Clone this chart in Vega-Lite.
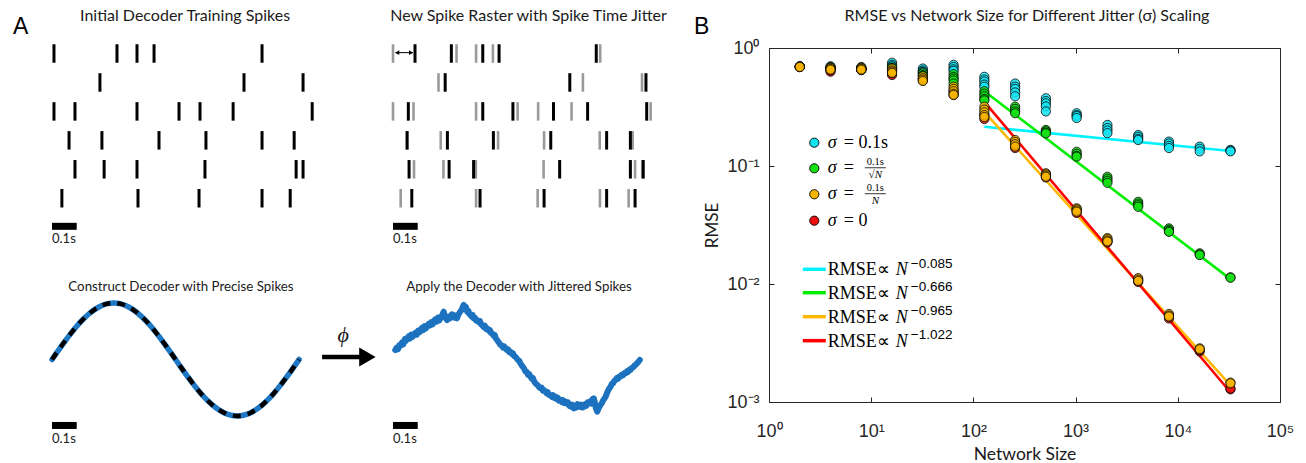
{
  "$schema": "https://vega.github.io/schema/vega-lite/v6.json",
  "autosize": {"type": "pad"},
  "padding": {"left": 12, "top": 8, "right": 0, "bottom": 0},
  "background": "white",
  "config": {
    "view": {"stroke": null},
    "axis": {"grid": false}
  },
  "datasets": {
    "raster1": [
      {"row": 1, "t": 0.008}, {"row": 1, "t": 0.263}, {"row": 1, "t": 0.344}, {"row": 1, "t": 0.413}, {"row": 1, "t": 0.85},
      {"row": 2, "t": 0.194}, {"row": 2, "t": 0.777}, {"row": 2, "t": 1.016},
      {"row": 3, "t": 0.008}, {"row": 3, "t": 0.093}, {"row": 3, "t": 0.344}, {"row": 3, "t": 0.514}, {"row": 3, "t": 0.599}, {"row": 3, "t": 0.733}, {"row": 3, "t": 1.053},
      {"row": 4, "t": 0.069}, {"row": 4, "t": 0.202}, {"row": 4, "t": 0.433}, {"row": 4, "t": 0.623}, {"row": 4, "t": 0.85}, {"row": 4, "t": 0.98},
      {"row": 5, "t": 0.093}, {"row": 5, "t": 0.211}, {"row": 5, "t": 0.344}, {"row": 5, "t": 0.619}, {"row": 5, "t": 0.988}, {"row": 5, "t": 1.016},
      {"row": 6, "t": 0.04}, {"row": 6, "t": 0.348}, {"row": 6, "t": 0.595}, {"row": 6, "t": 0.85}, {"row": 6, "t": 0.964}
    ],
    "raster2o": [
      {"row": 1, "t": 0.0}, {"row": 1, "t": 0.257}, {"row": 1, "t": 0.336}, {"row": 1, "t": 0.404}, {"row": 1, "t": 0.838},
      {"row": 2, "t": 0.184}, {"row": 2, "t": 0.768}, {"row": 2, "t": 1.007},
      {"row": 3, "t": 0.0}, {"row": 3, "t": 0.083}, {"row": 3, "t": 0.336}, {"row": 3, "t": 0.504}, {"row": 3, "t": 0.587}, {"row": 3, "t": 0.722}, {"row": 3, "t": 1.042},
      {"row": 4, "t": 0.057}, {"row": 4, "t": 0.193}, {"row": 4, "t": 0.425}, {"row": 4, "t": 0.611}, {"row": 4, "t": 0.836}, {"row": 4, "t": 0.969},
      {"row": 5, "t": 0.085}, {"row": 5, "t": 0.204}, {"row": 5, "t": 0.335}, {"row": 5, "t": 0.609}, {"row": 5, "t": 0.979}, {"row": 5, "t": 1.008},
      {"row": 6, "t": 0.031}, {"row": 6, "t": 0.336}, {"row": 6, "t": 0.585}, {"row": 6, "t": 0.837}, {"row": 6, "t": 0.953}
    ],
    "raster2j": [
      {"row": 1, "t": 0.089}, {"row": 1, "t": 0.236}, {"row": 1, "t": 0.363}, {"row": 1, "t": 0.429}, {"row": 1, "t": 0.822},
      {"row": 2, "t": 0.211}, {"row": 2, "t": 0.715}, {"row": 2, "t": 1.023},
      {"row": 3, "t": 0.062}, {"row": 3, "t": 0.363}, {"row": 3, "t": 0.485}, {"row": 3, "t": 0.649}, {"row": 3, "t": 0.787}, {"row": 3, "t": 1.026},
      {"row": 4, "t": 0.057}, {"row": 4, "t": 0.22}, {"row": 4, "t": 0.406}, {"row": 4, "t": 0.638}, {"row": 4, "t": 0.864}, {"row": 4, "t": 0.96},
      {"row": 5, "t": 0.065}, {"row": 5, "t": 0.227}, {"row": 5, "t": 0.326}, {"row": 5, "t": 0.674}, {"row": 5, "t": 0.96}, {"row": 5, "t": 1.012},
      {"row": 6, "t": 0.076}, {"row": 6, "t": 0.352}, {"row": 6, "t": 0.611}, {"row": 6, "t": 0.864}, {"row": 6, "t": 0.979}
    ],
    "sine": [
      {"t": 0.0, "u": 0.0}, {"t": 0.025, "u": 0.1564}, {"t": 0.05, "u": 0.309}, {"t": 0.075, "u": 0.454}, {"t": 0.1, "u": 0.5878},
      {"t": 0.125, "u": 0.7071}, {"t": 0.15, "u": 0.809}, {"t": 0.175, "u": 0.891}, {"t": 0.2, "u": 0.9511}, {"t": 0.225, "u": 0.9877},
      {"t": 0.25, "u": 1.0}, {"t": 0.275, "u": 0.9877}, {"t": 0.3, "u": 0.9511}, {"t": 0.325, "u": 0.891}, {"t": 0.35, "u": 0.809},
      {"t": 0.375, "u": 0.7071}, {"t": 0.4, "u": 0.5878}, {"t": 0.425, "u": 0.454}, {"t": 0.45, "u": 0.309}, {"t": 0.475, "u": 0.1564},
      {"t": 0.5, "u": 0.0}, {"t": 0.525, "u": -0.1564}, {"t": 0.55, "u": -0.309}, {"t": 0.575, "u": -0.454}, {"t": 0.6, "u": -0.5878},
      {"t": 0.625, "u": -0.7071}, {"t": 0.65, "u": -0.809}, {"t": 0.675, "u": -0.891}, {"t": 0.7, "u": -0.9511}, {"t": 0.725, "u": -0.9877},
      {"t": 0.75, "u": -1.0}, {"t": 0.775, "u": -0.9877}, {"t": 0.8, "u": -0.9511}, {"t": 0.825, "u": -0.891}, {"t": 0.85, "u": -0.809},
      {"t": 0.875, "u": -0.7071}, {"t": 0.9, "u": -0.5878}, {"t": 0.925, "u": -0.454}, {"t": 0.95, "u": -0.309}, {"t": 0.975, "u": -0.1564},
      {"t": 1.0, "u": 0.0}
    ],
    "noisy": [
      {"t": 0.009, "u": 0.168}, {"t": 0.015, "u": 0.21}, {"t": 0.02, "u": 0.18}, {"t": 0.025, "u": 0.25}, {"t": 0.03, "u": 0.239},
      {"t": 0.036, "u": 0.3}, {"t": 0.042, "u": 0.27}, {"t": 0.048, "u": 0.36}, {"t": 0.052, "u": 0.33}, {"t": 0.057, "u": 0.375},
      {"t": 0.063, "u": 0.41}, {"t": 0.068, "u": 0.37}, {"t": 0.074, "u": 0.44}, {"t": 0.079, "u": 0.4}, {"t": 0.083, "u": 0.434},
      {"t": 0.09, "u": 0.47}, {"t": 0.096, "u": 0.44}, {"t": 0.102, "u": 0.51}, {"t": 0.107, "u": 0.48}, {"t": 0.111, "u": 0.522},
      {"t": 0.117, "u": 0.56}, {"t": 0.122, "u": 0.52}, {"t": 0.128, "u": 0.59}, {"t": 0.133, "u": 0.55}, {"t": 0.138, "u": 0.593},
      {"t": 0.144, "u": 0.63}, {"t": 0.149, "u": 0.6}, {"t": 0.155, "u": 0.66}, {"t": 0.16, "u": 0.62}, {"t": 0.164, "u": 0.67},
      {"t": 0.17, "u": 0.71}, {"t": 0.176, "u": 0.67}, {"t": 0.182, "u": 0.74}, {"t": 0.187, "u": 0.69}, {"t": 0.192, "u": 0.729},
      {"t": 0.198, "u": 0.78}, {"t": 0.205, "u": 0.847}, {"t": 0.21, "u": 0.76}, {"t": 0.215, "u": 0.72}, {"t": 0.219, "u": 0.699},
      {"t": 0.225, "u": 0.76}, {"t": 0.231, "u": 0.73}, {"t": 0.238, "u": 0.8}, {"t": 0.245, "u": 0.788}, {"t": 0.25, "u": 0.74},
      {"t": 0.255, "u": 0.77}, {"t": 0.259, "u": 0.729}, {"t": 0.265, "u": 0.8}, {"t": 0.272, "u": 0.847}, {"t": 0.278, "u": 0.88},
      {"t": 0.283, "u": 0.94}, {"t": 0.286, "u": 0.965}, {"t": 0.29, "u": 0.9}, {"t": 0.295, "u": 0.93}, {"t": 0.3, "u": 0.847},
      {"t": 0.305, "u": 0.86}, {"t": 0.309, "u": 0.8}, {"t": 0.313, "u": 0.788}, {"t": 0.318, "u": 0.76}, {"t": 0.322, "u": 0.79},
      {"t": 0.326, "u": 0.729}, {"t": 0.331, "u": 0.74}, {"t": 0.336, "u": 0.69}, {"t": 0.34, "u": 0.699}, {"t": 0.346, "u": 0.66},
      {"t": 0.352, "u": 0.68}, {"t": 0.356, "u": 0.62}, {"t": 0.36, "u": 0.611}, {"t": 0.366, "u": 0.58}, {"t": 0.371, "u": 0.6},
      {"t": 0.376, "u": 0.54}, {"t": 0.381, "u": 0.552}, {"t": 0.387, "u": 0.51}, {"t": 0.392, "u": 0.52}, {"t": 0.396, "u": 0.47},
      {"t": 0.401, "u": 0.463}, {"t": 0.407, "u": 0.42}, {"t": 0.412, "u": 0.43}, {"t": 0.416, "u": 0.37}, {"t": 0.421, "u": 0.345},
      {"t": 0.426, "u": 0.31}, {"t": 0.43, "u": 0.29}, {"t": 0.434, "u": 0.257}, {"t": 0.44, "u": 0.25}, {"t": 0.445, "u": 0.21},
      {"t": 0.45, "u": 0.23}, {"t": 0.455, "u": 0.198}, {"t": 0.46, "u": 0.17}, {"t": 0.465, "u": 0.18}, {"t": 0.47, "u": 0.13},
      {"t": 0.475, "u": 0.138}, {"t": 0.48, "u": 0.1}, {"t": 0.485, "u": 0.11}, {"t": 0.49, "u": 0.06}, {"t": 0.495, "u": 0.05},
      {"t": 0.5, "u": 0.02}, {"t": 0.505, "u": -0.01}, {"t": 0.51, "u": -0.02}, {"t": 0.515, "u": -0.068}, {"t": 0.52, "u": -0.1},
      {"t": 0.525, "u": -0.13}, {"t": 0.53, "u": -0.16}, {"t": 0.536, "u": -0.215}, {"t": 0.541, "u": -0.22}, {"t": 0.546, "u": -0.27},
      {"t": 0.551, "u": -0.26}, {"t": 0.556, "u": -0.304}, {"t": 0.561, "u": -0.34}, {"t": 0.566, "u": -0.33}, {"t": 0.571, "u": -0.39},
      {"t": 0.576, "u": -0.422}, {"t": 0.581, "u": -0.44}, {"t": 0.586, "u": -0.46}, {"t": 0.591, "u": -0.49}, {"t": 0.596, "u": -0.51},
      {"t": 0.601, "u": -0.5}, {"t": 0.606, "u": -0.55}, {"t": 0.611, "u": -0.54}, {"t": 0.616, "u": -0.569}, {"t": 0.621, "u": -0.6},
      {"t": 0.626, "u": -0.58}, {"t": 0.631, "u": -0.63}, {"t": 0.637, "u": -0.628}, {"t": 0.642, "u": -0.66}, {"t": 0.647, "u": -0.63},
      {"t": 0.652, "u": -0.68}, {"t": 0.657, "u": -0.658}, {"t": 0.662, "u": -0.7}, {"t": 0.667, "u": -0.68}, {"t": 0.672, "u": -0.73},
      {"t": 0.677, "u": -0.717}, {"t": 0.682, "u": -0.75}, {"t": 0.687, "u": -0.72}, {"t": 0.692, "u": -0.77}, {"t": 0.698, "u": -0.746},
      {"t": 0.703, "u": -0.78}, {"t": 0.708, "u": -0.76}, {"t": 0.713, "u": -0.82}, {"t": 0.718, "u": -0.805}, {"t": 0.722, "u": -0.84},
      {"t": 0.726, "u": -0.8}, {"t": 0.731, "u": -0.864}, {"t": 0.736, "u": -0.82}, {"t": 0.741, "u": -0.85}, {"t": 0.746, "u": -0.79},
      {"t": 0.752, "u": -0.805}, {"t": 0.757, "u": -0.84}, {"t": 0.762, "u": -0.8}, {"t": 0.767, "u": -0.85}, {"t": 0.772, "u": -0.835},
      {"t": 0.777, "u": -0.79}, {"t": 0.782, "u": -0.82}, {"t": 0.787, "u": -0.76}, {"t": 0.792, "u": -0.776}, {"t": 0.797, "u": -0.74},
      {"t": 0.802, "u": -0.78}, {"t": 0.807, "u": -0.7}, {"t": 0.812, "u": -0.687}, {"t": 0.816, "u": -0.75}, {"t": 0.82, "u": -0.86},
      {"t": 0.826, "u": -0.923}, {"t": 0.832, "u": -0.86}, {"t": 0.839, "u": -0.805}, {"t": 0.845, "u": -0.77}, {"t": 0.85, "u": -0.72},
      {"t": 0.855, "u": -0.69}, {"t": 0.86, "u": -0.658}, {"t": 0.865, "u": -0.6}, {"t": 0.87, "u": -0.55}, {"t": 0.875, "u": -0.51},
      {"t": 0.88, "u": -0.481}, {"t": 0.885, "u": -0.43}, {"t": 0.89, "u": -0.42}, {"t": 0.895, "u": -0.38}, {"t": 0.9, "u": -0.363},
      {"t": 0.905, "u": -0.33}, {"t": 0.91, "u": -0.34}, {"t": 0.915, "u": -0.3}, {"t": 0.92, "u": -0.304}, {"t": 0.925, "u": -0.27},
      {"t": 0.93, "u": -0.28}, {"t": 0.936, "u": -0.24}, {"t": 0.941, "u": -0.245}, {"t": 0.946, "u": -0.21}, {"t": 0.951, "u": -0.22},
      {"t": 0.956, "u": -0.18}, {"t": 0.961, "u": -0.186}, {"t": 0.966, "u": -0.15}, {"t": 0.971, "u": -0.14}, {"t": 0.976, "u": -0.11},
      {"t": 0.981, "u": -0.097}, {"t": 0.986, "u": -0.07}, {"t": 0.991, "u": -0.05}, {"t": 0.998, "u": -0.009}
    ],
    "fits": [
      {"N": 128, "rmse": 0.215, "series": "s01"}, {"N": 32768, "rmse": 0.134, "series": "s01"},
      {"N": 128, "rmse": 0.43, "series": "sqrt"}, {"N": 32768, "rmse": 0.011, "series": "sqrt"},
      {"N": 128, "rmse": 0.287, "series": "inv"}, {"N": 32768, "rmse": 0.00138, "series": "inv"},
      {"N": 128, "rmse": 0.35, "series": "zero"}, {"N": 32768, "rmse": 0.00121, "series": "zero"}
    ],
    "points": [
      {"N": 2, "rmse": 0.7, "series": "s01"}, {"N": 2, "rmse": 0.69, "series": "s01"}, {"N": 2, "rmse": 0.695, "series": "s01"},
      {"N": 4, "rmse": 0.7, "series": "s01"}, {"N": 4, "rmse": 0.68, "series": "s01"}, {"N": 4, "rmse": 0.67, "series": "s01"}, {"N": 4, "rmse": 0.69, "series": "s01"},
      {"N": 8, "rmse": 0.69, "series": "s01"}, {"N": 8, "rmse": 0.67, "series": "s01"}, {"N": 8, "rmse": 0.66, "series": "s01"}, {"N": 8, "rmse": 0.68, "series": "s01"},
      {"N": 16, "rmse": 0.75, "series": "s01"}, {"N": 16, "rmse": 0.72, "series": "s01"}, {"N": 16, "rmse": 0.7, "series": "s01"}, {"N": 16, "rmse": 0.68, "series": "s01"},
      {"N": 32, "rmse": 0.67, "series": "s01"}, {"N": 32, "rmse": 0.645, "series": "s01"}, {"N": 32, "rmse": 0.63, "series": "s01"}, {"N": 32, "rmse": 0.62, "series": "s01"},
      {"N": 64, "rmse": 0.72, "series": "s01"}, {"N": 64, "rmse": 0.69, "series": "s01"}, {"N": 64, "rmse": 0.66, "series": "s01"}, {"N": 64, "rmse": 0.64, "series": "s01"},
      {"N": 128, "rmse": 0.57, "series": "s01"}, {"N": 128, "rmse": 0.54, "series": "s01"}, {"N": 128, "rmse": 0.52, "series": "s01"}, {"N": 128, "rmse": 0.49, "series": "s01"}, {"N": 128, "rmse": 0.47, "series": "s01"},
      {"N": 256, "rmse": 0.5, "series": "s01"}, {"N": 256, "rmse": 0.47, "series": "s01"}, {"N": 256, "rmse": 0.45, "series": "s01"}, {"N": 256, "rmse": 0.42, "series": "s01"}, {"N": 256, "rmse": 0.39, "series": "s01"},
      {"N": 512, "rmse": 0.375, "series": "s01"}, {"N": 512, "rmse": 0.355, "series": "s01"}, {"N": 512, "rmse": 0.34, "series": "s01"}, {"N": 512, "rmse": 0.32, "series": "s01"}, {"N": 512, "rmse": 0.29, "series": "s01"},
      {"N": 1024, "rmse": 0.28, "series": "s01"}, {"N": 1024, "rmse": 0.27, "series": "s01"}, {"N": 1024, "rmse": 0.265, "series": "s01"}, {"N": 1024, "rmse": 0.255, "series": "s01"},
      {"N": 2048, "rmse": 0.223, "series": "s01"}, {"N": 2048, "rmse": 0.21, "series": "s01"}, {"N": 2048, "rmse": 0.2, "series": "s01"}, {"N": 2048, "rmse": 0.19, "series": "s01"},
      {"N": 4096, "rmse": 0.183, "series": "s01"}, {"N": 4096, "rmse": 0.177, "series": "s01"}, {"N": 4096, "rmse": 0.17, "series": "s01"}, {"N": 4096, "rmse": 0.166, "series": "s01"},
      {"N": 8192, "rmse": 0.161, "series": "s01"}, {"N": 8192, "rmse": 0.155, "series": "s01"}, {"N": 8192, "rmse": 0.148, "series": "s01"}, {"N": 8192, "rmse": 0.142, "series": "s01"},
      {"N": 16384, "rmse": 0.146, "series": "s01"}, {"N": 16384, "rmse": 0.14, "series": "s01"}, {"N": 16384, "rmse": 0.133, "series": "s01"},
      {"N": 32768, "rmse": 0.137, "series": "s01"}, {"N": 32768, "rmse": 0.135, "series": "s01"}, {"N": 32768, "rmse": 0.133, "series": "s01"},
      {"N": 2, "rmse": 0.69, "series": "sqrt"}, {"N": 2, "rmse": 0.7, "series": "sqrt"},
      {"N": 4, "rmse": 0.68, "series": "sqrt"}, {"N": 4, "rmse": 0.66, "series": "sqrt"}, {"N": 4, "rmse": 0.67, "series": "sqrt"},
      {"N": 8, "rmse": 0.67, "series": "sqrt"}, {"N": 8, "rmse": 0.66, "series": "sqrt"}, {"N": 8, "rmse": 0.65, "series": "sqrt"},
      {"N": 16, "rmse": 0.68, "series": "sqrt"}, {"N": 16, "rmse": 0.66, "series": "sqrt"}, {"N": 16, "rmse": 0.64, "series": "sqrt"},
      {"N": 32, "rmse": 0.61, "series": "sqrt"}, {"N": 32, "rmse": 0.59, "series": "sqrt"}, {"N": 32, "rmse": 0.58, "series": "sqrt"},
      {"N": 64, "rmse": 0.6, "series": "sqrt"}, {"N": 64, "rmse": 0.57, "series": "sqrt"}, {"N": 64, "rmse": 0.55, "series": "sqrt"}, {"N": 64, "rmse": 0.53, "series": "sqrt"}, {"N": 64, "rmse": 0.5, "series": "sqrt"},
      {"N": 128, "rmse": 0.43, "series": "sqrt"}, {"N": 128, "rmse": 0.41, "series": "sqrt"}, {"N": 128, "rmse": 0.39, "series": "sqrt"}, {"N": 128, "rmse": 0.37, "series": "sqrt"}, {"N": 128, "rmse": 0.36, "series": "sqrt"},
      {"N": 256, "rmse": 0.318, "series": "sqrt"}, {"N": 256, "rmse": 0.305, "series": "sqrt"}, {"N": 256, "rmse": 0.29, "series": "sqrt"}, {"N": 256, "rmse": 0.28, "series": "sqrt"},
      {"N": 512, "rmse": 0.202, "series": "sqrt"}, {"N": 512, "rmse": 0.197, "series": "sqrt"}, {"N": 512, "rmse": 0.192, "series": "sqrt"}, {"N": 512, "rmse": 0.189, "series": "sqrt"},
      {"N": 1024, "rmse": 0.132, "series": "sqrt"}, {"N": 1024, "rmse": 0.127, "series": "sqrt"}, {"N": 1024, "rmse": 0.122, "series": "sqrt"}, {"N": 1024, "rmse": 0.12, "series": "sqrt"},
      {"N": 2048, "rmse": 0.081, "series": "sqrt"}, {"N": 2048, "rmse": 0.078, "series": "sqrt"}, {"N": 2048, "rmse": 0.075, "series": "sqrt"}, {"N": 2048, "rmse": 0.072, "series": "sqrt"},
      {"N": 4096, "rmse": 0.0497, "series": "sqrt"}, {"N": 4096, "rmse": 0.048, "series": "sqrt"}, {"N": 4096, "rmse": 0.0465, "series": "sqrt"}, {"N": 4096, "rmse": 0.0451, "series": "sqrt"},
      {"N": 8192, "rmse": 0.0296, "series": "sqrt"}, {"N": 8192, "rmse": 0.0288, "series": "sqrt"}, {"N": 8192, "rmse": 0.028, "series": "sqrt"}, {"N": 8192, "rmse": 0.0277, "series": "sqrt"},
      {"N": 16384, "rmse": 0.0182, "series": "sqrt"}, {"N": 16384, "rmse": 0.0178, "series": "sqrt"}, {"N": 16384, "rmse": 0.0176, "series": "sqrt"},
      {"N": 32768, "rmse": 0.0114, "series": "sqrt"}, {"N": 32768, "rmse": 0.0113, "series": "sqrt"},
      {"N": 2, "rmse": 0.69, "series": "zero"}, {"N": 4, "rmse": 0.63, "series": "zero"}, {"N": 4, "rmse": 0.645, "series": "zero"},
      {"N": 8, "rmse": 0.65, "series": "zero"}, {"N": 8, "rmse": 0.66, "series": "zero"}, {"N": 16, "rmse": 0.59, "series": "zero"}, {"N": 16, "rmse": 0.61, "series": "zero"},
      {"N": 32, "rmse": 0.53, "series": "zero"}, {"N": 32, "rmse": 0.55, "series": "zero"}, {"N": 64, "rmse": 0.4, "series": "zero"}, {"N": 64, "rmse": 0.43, "series": "zero"},
      {"N": 128, "rmse": 0.25, "series": "zero"}, {"N": 128, "rmse": 0.27, "series": "zero"}, {"N": 256, "rmse": 0.142, "series": "zero"}, {"N": 256, "rmse": 0.148, "series": "zero"},
      {"N": 512, "rmse": 0.08, "series": "zero"}, {"N": 512, "rmse": 0.083, "series": "zero"}, {"N": 1024, "rmse": 0.04, "series": "zero"}, {"N": 1024, "rmse": 0.042, "series": "zero"},
      {"N": 2048, "rmse": 0.0225, "series": "zero"}, {"N": 2048, "rmse": 0.023, "series": "zero"}, {"N": 4096, "rmse": 0.0104, "series": "zero"}, {"N": 4096, "rmse": 0.0108, "series": "zero"},
      {"N": 8192, "rmse": 0.0051, "series": "zero"}, {"N": 8192, "rmse": 0.0053, "series": "zero"}, {"N": 16384, "rmse": 0.00268, "series": "zero"}, {"N": 16384, "rmse": 0.00275, "series": "zero"},
      {"N": 32768, "rmse": 0.00128, "series": "zero"}, {"N": 32768, "rmse": 0.0013, "series": "zero"},
      {"N": 2, "rmse": 0.695, "series": "inv"}, {"N": 2, "rmse": 0.69, "series": "inv"},
      {"N": 4, "rmse": 0.68, "series": "inv"}, {"N": 4, "rmse": 0.665, "series": "inv"}, {"N": 4, "rmse": 0.655, "series": "inv"},
      {"N": 8, "rmse": 0.68, "series": "inv"}, {"N": 8, "rmse": 0.665, "series": "inv"}, {"N": 8, "rmse": 0.655, "series": "inv"},
      {"N": 16, "rmse": 0.67, "series": "inv"}, {"N": 16, "rmse": 0.645, "series": "inv"}, {"N": 16, "rmse": 0.63, "series": "inv"}, {"N": 16, "rmse": 0.615, "series": "inv"},
      {"N": 32, "rmse": 0.575, "series": "inv"}, {"N": 32, "rmse": 0.555, "series": "inv"}, {"N": 32, "rmse": 0.54, "series": "inv"}, {"N": 32, "rmse": 0.525, "series": "inv"},
      {"N": 64, "rmse": 0.47, "series": "inv"}, {"N": 64, "rmse": 0.45, "series": "inv"}, {"N": 64, "rmse": 0.43, "series": "inv"}, {"N": 64, "rmse": 0.41, "series": "inv"}, {"N": 64, "rmse": 0.4, "series": "inv"},
      {"N": 128, "rmse": 0.318, "series": "inv"}, {"N": 128, "rmse": 0.3, "series": "inv"}, {"N": 128, "rmse": 0.285, "series": "inv"}, {"N": 128, "rmse": 0.27, "series": "inv"}, {"N": 128, "rmse": 0.26, "series": "inv"},
      {"N": 256, "rmse": 0.166, "series": "inv"}, {"N": 256, "rmse": 0.16, "series": "inv"}, {"N": 256, "rmse": 0.153, "series": "inv"}, {"N": 256, "rmse": 0.146, "series": "inv"},
      {"N": 512, "rmse": 0.0868, "series": "inv"}, {"N": 512, "rmse": 0.085, "series": "inv"}, {"N": 512, "rmse": 0.083, "series": "inv"}, {"N": 512, "rmse": 0.081, "series": "inv"},
      {"N": 1024, "rmse": 0.0438, "series": "inv"}, {"N": 1024, "rmse": 0.043, "series": "inv"}, {"N": 1024, "rmse": 0.042, "series": "inv"}, {"N": 1024, "rmse": 0.041, "series": "inv"},
      {"N": 2048, "rmse": 0.0245, "series": "inv"}, {"N": 2048, "rmse": 0.024, "series": "inv"}, {"N": 2048, "rmse": 0.0233, "series": "inv"}, {"N": 2048, "rmse": 0.0229, "series": "inv"},
      {"N": 4096, "rmse": 0.0112, "series": "inv"}, {"N": 4096, "rmse": 0.0109, "series": "inv"}, {"N": 4096, "rmse": 0.0106, "series": "inv"},
      {"N": 8192, "rmse": 0.00557, "series": "inv"}, {"N": 8192, "rmse": 0.0054, "series": "inv"}, {"N": 8192, "rmse": 0.0053, "series": "inv"},
      {"N": 16384, "rmse": 0.00285, "series": "inv"}, {"N": 16384, "rmse": 0.0028, "series": "inv"},
      {"N": 32768, "rmse": 0.00146, "series": "inv"}, {"N": 32768, "rmse": 0.00144, "series": "inv"}
    ],
    "legSig": [
      {"lx": 2.775, "ly": 0.1576, "series": "s01", "rhs": "= 0.1s"},
      {"lx": 2.775, "ly": 0.0956, "series": "sqrt", "rhs": "="},
      {"lx": 2.775, "ly": 0.0576, "series": "inv", "rhs": "="},
      {"lx": 2.775, "ly": 0.0344, "series": "zero", "rhs": "= 0"}
    ],
    "legFrac": [
      {"lx": 2.775, "ly": 0.0956, "num": "0.1s", "den": "√N"},
      {"lx": 2.775, "ly": 0.0576, "num": "0.1s", "den": "N"}
    ],
    "legLine": [
      {"lx": 2.775, "ly": 0.01332, "series": "s01", "expo": "−0.085"},
      {"lx": 2.775, "ly": 0.008438, "series": "sqrt", "expo": "−0.666"},
      {"lx": 2.775, "ly": 0.005283, "series": "inv", "expo": "−0.965"},
      {"lx": 2.775, "ly": 0.003308, "series": "zero", "expo": "−1.022"}
    ]
  },
  "hconcat": [
    {
      "width": 341, "height": 396,
      "resolve": {"scale": {"y": "independent"}},
      "layer": [
        {
          "layer": [
            {
              "data": {"name": "raster1"},
              "mark": {"type": "tick", "orient": "vertical", "size": 18.5, "thickness": 3, "color": "black", "opacity": 1},
              "encoding": {
                "x": {"field": "t", "type": "quantitative", "scale": {"domain": [0, 1.38], "nice": false, "zero": false}, "axis": null},
                "y": {"field": "row", "type": "quantitative", "scale": {"domain": [0.81, 14.49], "reverse": true, "nice": false, "zero": false}, "axis": null}
              }
            },
            {
              "data": {"values": [{"t": 0, "t2": 0.1, "row": 6.97}]},
              "mark": {"type": "rule", "strokeWidth": 7, "strokeCap": "butt", "color": "black"},
              "encoding": {
                "x": {"field": "t", "type": "quantitative", "axis": null},
                "x2": {"field": "t2"},
                "y": {"field": "row", "type": "quantitative", "axis": null}
              }
            },
            {
              "data": {"values": [{"t": 0, "row": 7.54, "label": "0.1s"}]},
              "mark": {"type": "text", "align": "left", "baseline": "alphabetic", "font": "Lato", "fontSize": 13, "color": "#1a1a1a"},
              "encoding": {
                "x": {"field": "t", "type": "quantitative", "axis": null},
                "y": {"field": "row", "type": "quantitative", "axis": null},
                "text": {"field": "label"}
              }
            },
            {
              "data": {"values": [{"t": 0.5385, "row": -0.295, "label": "Initial Decoder Training Spikes"}]},
              "mark": {"type": "text", "align": "center", "baseline": "middle", "font": "Lato", "fontSize": 16, "color": "#1a1a1a"},
              "encoding": {
                "x": {"field": "t", "type": "quantitative", "axis": null},
                "y": {"field": "row", "type": "quantitative", "axis": null},
                "text": {"field": "label"}
              }
            },
            {
              "data": {"values": [{"t": -0.158, "row": -0.295, "label": "A"}]},
              "mark": {"type": "text", "align": "left", "baseline": "top", "font": "Liberation Sans", "fontSize": 23, "color": "black"},
              "encoding": {
                "x": {"field": "t", "type": "quantitative", "axis": null},
                "y": {"field": "row", "type": "quantitative", "axis": null},
                "text": {"field": "label"}
              }
            }
          ]
        },
        {
          "layer": [
            {
              "data": {"name": "sine"},
              "mark": {"type": "line", "strokeWidth": 5.5, "color": "#1f78c4", "strokeCap": "round", "interpolate": "monotone"},
              "encoding": {
                "x": {"field": "t", "type": "quantitative", "axis": null},
                "y": {"field": "u", "type": "quantitative", "scale": {"domain": [-1.496, 5.513], "nice": false, "zero": false}, "axis": null}
              }
            },
            {
              "data": {"name": "sine"},
              "mark": {"type": "line", "strokeWidth": 4.5, "color": "black", "strokeDash": [8, 7], "strokeCap": "butt", "interpolate": "monotone"},
              "encoding": {
                "x": {"field": "t", "type": "quantitative", "axis": null},
                "y": {"field": "u", "type": "quantitative", "axis": null}
              }
            },
            {
              "data": {"values": [{"t": 0, "t2": 0.1, "u": -1.168}]},
              "mark": {"type": "rule", "strokeWidth": 7, "strokeCap": "butt", "color": "black"},
              "encoding": {
                "x": {"field": "t", "type": "quantitative", "axis": null},
                "x2": {"field": "t2"},
                "y": {"field": "u", "type": "quantitative", "axis": null}
              }
            },
            {
              "data": {"values": [{"t": 0, "u": -1.473, "label": "0.1s"}]},
              "mark": {"type": "text", "align": "left", "baseline": "alphabetic", "font": "Lato", "fontSize": 13, "color": "#1a1a1a"},
              "encoding": {
                "x": {"field": "t", "type": "quantitative", "axis": null},
                "y": {"field": "u", "type": "quantitative", "axis": null},
                "text": {"field": "label"}
              }
            },
            {
              "data": {"values": [{"t": 0.522, "u": 1.274, "label": "Construct Decoder with Precise Spikes"}]},
              "mark": {"type": "text", "align": "center", "baseline": "middle", "font": "Lato", "fontSize": 13.3, "color": "#1a1a1a"},
              "encoding": {
                "x": {"field": "t", "type": "quantitative", "axis": null},
                "y": {"field": "u", "type": "quantitative", "axis": null},
                "text": {"field": "label"}
              }
            },
            {
              "data": {"values": [{"t": 1.093, "t2": 1.25, "u": 0.044}]},
              "mark": {"type": "rule", "strokeWidth": 4.5, "strokeCap": "butt", "color": "black"},
              "encoding": {
                "x": {"field": "t", "type": "quantitative", "axis": null},
                "x2": {"field": "t2"},
                "y": {"field": "u", "type": "quantitative", "axis": null}
              }
            },
            {
              "data": {"values": [{"t": 1.2765, "u": 0.044}]},
              "mark": {"type": "point", "shape": "triangle-right", "filled": true, "size": 360, "color": "black", "opacity": 1},
              "encoding": {
                "x": {"field": "t", "type": "quantitative", "axis": null},
                "y": {"field": "u", "type": "quantitative", "axis": null}
              }
            },
            {
              "data": {"values": [{"t": 1.178, "u": 0.43, "label": "ϕ"}]},
              "mark": {"type": "text", "align": "center", "baseline": "middle", "font": "Liberation Serif", "fontStyle": "italic", "fontSize": 22, "color": "#1a1a1a"},
              "encoding": {
                "x": {"field": "t", "type": "quantitative", "axis": null},
                "y": {"field": "u", "type": "quantitative", "axis": null},
                "text": {"field": "label"}
              }
            }
          ]
        }
      ]
    },
    {
      "width": 376, "height": 396,
      "resolve": {"scale": {"y": "independent"}},
      "layer": [
        {
          "layer": [
            {
              "data": {"name": "raster2o"},
              "mark": {"type": "tick", "orient": "vertical", "size": 18.5, "thickness": 2.6, "color": "#9a9a9a", "opacity": 1},
              "encoding": {
                "x": {"field": "t", "type": "quantitative", "scale": {"domain": [0, 1.5206], "nice": false, "zero": false}, "axis": null},
                "y": {"field": "row", "type": "quantitative", "scale": {"domain": [0.81, 14.49], "reverse": true, "nice": false, "zero": false}, "axis": null}
              }
            },
            {
              "data": {"name": "raster2j"},
              "mark": {"type": "tick", "orient": "vertical", "size": 18.5, "thickness": 3, "color": "black", "opacity": 1},
              "encoding": {
                "x": {"field": "t", "type": "quantitative", "axis": null},
                "y": {"field": "row", "type": "quantitative", "axis": null}
              }
            },
            {
              "data": {"values": [{"t": 0.01, "t2": 0.08, "row": 0.97}]},
              "mark": {"type": "rule", "strokeWidth": 1, "color": "black"},
              "encoding": {
                "x": {"field": "t", "type": "quantitative", "axis": null},
                "x2": {"field": "t2"},
                "y": {"field": "row", "type": "quantitative", "axis": null}
              }
            },
            {
              "data": {"values": [{"t": 0.017, "row": 0.97, "dir": "l"}, {"t": 0.073, "row": 0.97, "dir": "r"}]},
              "mark": {"type": "point", "filled": true, "size": 22, "color": "black", "opacity": 1},
              "encoding": {
                "x": {"field": "t", "type": "quantitative", "axis": null},
                "y": {"field": "row", "type": "quantitative", "axis": null},
                "shape": {"field": "dir", "type": "nominal", "scale": {"domain": ["l", "r"], "range": ["triangle-left", "triangle-right"]}, "legend": null}
              }
            },
            {
              "data": {"values": [{"t": 0, "t2": 0.1, "row": 6.97}]},
              "mark": {"type": "rule", "strokeWidth": 7, "strokeCap": "butt", "color": "black"},
              "encoding": {
                "x": {"field": "t", "type": "quantitative", "axis": null},
                "x2": {"field": "t2"},
                "y": {"field": "row", "type": "quantitative", "axis": null}
              }
            },
            {
              "data": {"values": [{"t": 0, "row": 7.54, "label": "0.1s"}]},
              "mark": {"type": "text", "align": "left", "baseline": "alphabetic", "font": "Lato", "fontSize": 13, "color": "#1a1a1a"},
              "encoding": {
                "x": {"field": "t", "type": "quantitative", "axis": null},
                "y": {"field": "row", "type": "quantitative", "axis": null},
                "text": {"field": "label"}
              }
            },
            {
              "data": {"values": [{"t": 0.548, "row": -0.295, "label": "New Spike Raster with Spike Time Jitter"}]},
              "mark": {"type": "text", "align": "center", "baseline": "middle", "font": "Lato", "fontSize": 16, "color": "#1a1a1a"},
              "encoding": {
                "x": {"field": "t", "type": "quantitative", "axis": null},
                "y": {"field": "row", "type": "quantitative", "axis": null},
                "text": {"field": "label"}
              }
            }
          ]
        },
        {
          "layer": [
            {
              "data": {"name": "noisy"},
              "mark": {"type": "line", "strokeWidth": 6, "color": "#1c72be", "strokeCap": "round", "strokeJoin": "round"},
              "encoding": {
                "x": {"field": "t", "type": "quantitative", "axis": null},
                "y": {"field": "u", "type": "quantitative", "scale": {"domain": [-1.496, 5.513], "nice": false, "zero": false}, "axis": null}
              }
            },
            {
              "data": {"values": [{"t": 0, "t2": 0.1, "u": -1.168}]},
              "mark": {"type": "rule", "strokeWidth": 7, "strokeCap": "butt", "color": "black"},
              "encoding": {
                "x": {"field": "t", "type": "quantitative", "axis": null},
                "x2": {"field": "t2"},
                "y": {"field": "u", "type": "quantitative", "axis": null}
              }
            },
            {
              "data": {"values": [{"t": 0, "u": -1.473, "label": "0.1s"}]},
              "mark": {"type": "text", "align": "left", "baseline": "alphabetic", "font": "Lato", "fontSize": 13, "color": "#1a1a1a"},
              "encoding": {
                "x": {"field": "t", "type": "quantitative", "axis": null},
                "y": {"field": "u", "type": "quantitative", "axis": null},
                "text": {"field": "label"}
              }
            },
            {
              "data": {"values": [{"t": 0.5096, "u": 1.274, "label": "Apply the Decoder with Jittered Spikes"}]},
              "mark": {"type": "text", "align": "center", "baseline": "middle", "font": "Lato", "fontSize": 13.3, "color": "#1a1a1a"},
              "encoding": {
                "x": {"field": "t", "type": "quantitative", "axis": null},
                "y": {"field": "u", "type": "quantitative", "axis": null},
                "text": {"field": "label"}
              }
            }
          ]
        }
      ]
    },
    {
      "width": 511, "height": 354,
      "resolve": {"axis": {"x": "independent", "y": "independent"}},
      "layer": [
        {
          "data": {"name": "fits"},
          "mark": {"type": "line", "strokeWidth": 2.6},
          "encoding": {
            "x": {"field": "N", "type": "quantitative", "scale": {"type": "log", "domain": [1, 100000], "nice": false},
              "axis": {"orient": "bottom", "values": [1, 10, 100, 1000, 10000, 100000],
                "labelExpr": "datum.value < 5 ? '10⁰' : datum.value < 50 ? '10¹' : datum.value < 500 ? '10²' : datum.value < 5000 ? '10³' : datum.value < 50000 ? '10⁴' : '10⁵'",
                "tickSize": -5, "labelPadding": 25, "labelFont": "Liberation Sans", "labelFontSize": 18, "labelColor": "#262626",
                "labelFlush": false, "labelOverlap": false, "domainColor": "#262626", "tickColor": "#262626",
                "title": "Network Size", "titleFont": "Lato", "titleFontSize": 17.5, "titleFontWeight": "normal", "titleColor": "#1a1a1a", "titlePadding": 5}},
            "y": {"field": "rmse", "type": "quantitative", "scale": {"type": "log", "domain": [0.001, 1], "nice": false},
              "axis": {"orient": "left", "values": [0.001, 0.01, 0.1, 1],
                "labelExpr": "datum.value > 0.5 ? '10⁰' : datum.value > 0.05 ? '10⁻¹' : datum.value > 0.005 ? '10⁻²' : '10⁻³'",
                "tickSize": -5, "labelPadding": 15, "labelFont": "Liberation Sans", "labelFontSize": 18, "labelColor": "#262626",
                "labelFlush": false, "labelOverlap": false, "domainColor": "#262626", "tickColor": "#262626",
                "title": "RMSE", "titleFont": "Lato", "titleFontSize": 17, "titleFontWeight": "normal", "titleColor": "#1a1a1a", "titlePadding": 5}},
            "color": {"field": "series", "type": "nominal", "scale": {"domain": ["s01", "sqrt", "inv", "zero"], "range": ["#00f2ff", "#00ee00", "#ffb800", "#ff0000"]}, "legend": null}
          }
        },
        {
          "data": {"name": "points"},
          "mark": {"type": "point", "filled": true, "size": 85, "fillOpacity": 0.85, "stroke": "black", "strokeWidth": 0.9, "strokeOpacity": 0.85},
          "encoding": {
            "x": {"field": "N", "type": "quantitative",
              "axis": {"orient": "top", "values": [1, 10, 100, 1000, 10000, 100000], "labels": false, "tickSize": -5, "title": null, "domainColor": "#262626", "tickColor": "#262626"}},
            "y": {"field": "rmse", "type": "quantitative",
              "axis": {"orient": "right", "values": [0.001, 0.01, 0.1, 1], "labels": false, "tickSize": -5, "title": null, "domainColor": "#262626", "tickColor": "#262626"}},
            "fill": {"field": "series", "type": "nominal", "scale": {"domain": ["s01", "sqrt", "inv", "zero"], "range": ["#14e4f2", "#14e014", "#f7b500", "#ee1010"]}, "legend": null}
          }
        },
        {
          "data": {"name": "legSig"},
          "mark": {"type": "point", "filled": true, "size": 85, "stroke": "black", "strokeWidth": 0.9},
          "encoding": {
            "x": {"field": "lx", "type": "quantitative", "axis": null},
            "y": {"field": "ly", "type": "quantitative", "axis": null},
            "fill": {"field": "series", "type": "nominal", "legend": null},
            "opacity": {"field": "series", "type": "nominal", "scale": {"domain": ["s01", "sqrt", "inv", "zero"], "range": [1, 1, 0.3, 1]}, "legend": null}
          }
        },
        {
          "data": {"name": "legSig"},
          "mark": {"type": "text", "align": "left", "baseline": "middle", "dx": 13.5, "font": "Liberation Serif", "fontStyle": "italic", "fontSize": 18, "color": "black"},
          "encoding": {
            "x": {"field": "lx", "type": "quantitative", "axis": null},
            "y": {"field": "ly", "type": "quantitative", "axis": null},
            "text": {"value": "σ"}
          }
        },
        {
          "data": {"name": "legSig"},
          "mark": {"type": "text", "align": "left", "baseline": "middle", "dx": 29.5, "font": "Liberation Serif", "fontSize": 18, "color": "black"},
          "encoding": {
            "x": {"field": "lx", "type": "quantitative", "axis": null},
            "y": {"field": "ly", "type": "quantitative", "axis": null},
            "text": {"field": "rhs"}
          }
        },
        {
          "data": {"name": "legFrac"},
          "mark": {"type": "text", "align": "center", "baseline": "middle", "dx": 61, "dy": -6, "font": "Liberation Serif", "fontSize": 10.5, "color": "black"},
          "encoding": {
            "x": {"field": "lx", "type": "quantitative", "axis": null},
            "y": {"field": "ly", "type": "quantitative", "axis": null},
            "text": {"field": "num"}
          }
        },
        {
          "data": {"name": "legFrac"},
          "mark": {"type": "text", "align": "center", "baseline": "middle", "dx": 61, "dy": 7, "font": "Liberation Serif", "fontStyle": "italic", "fontSize": 11, "color": "black"},
          "encoding": {
            "x": {"field": "lx", "type": "quantitative", "axis": null},
            "y": {"field": "ly", "type": "quantitative", "axis": null},
            "text": {"field": "den"}
          }
        },
        {
          "data": {"name": "legFrac"},
          "mark": {"type": "tick", "orient": "horizontal", "size": 21, "thickness": 0.8, "xOffset": 61, "yOffset": -0.5, "color": "black", "opacity": 1},
          "encoding": {
            "x": {"field": "lx", "type": "quantitative", "axis": null},
            "y": {"field": "ly", "type": "quantitative", "axis": null}
          }
        },
        {
          "data": {"name": "legLine"},
          "mark": {"type": "tick", "orient": "horizontal", "size": 23, "thickness": 3.5, "opacity": 1},
          "encoding": {
            "x": {"field": "lx", "type": "quantitative", "axis": null},
            "y": {"field": "ly", "type": "quantitative", "axis": null},
            "color": {"field": "series", "type": "nominal", "legend": null}
          }
        },
        {
          "data": {"name": "legLine"},
          "mark": {"type": "text", "align": "left", "baseline": "middle", "dx": 13.5, "dy": 1, "font": "Liberation Serif", "fontSize": 18, "color": "black"},
          "encoding": {
            "x": {"field": "lx", "type": "quantitative", "axis": null},
            "y": {"field": "ly", "type": "quantitative", "axis": null},
            "text": {"value": "RMSE∝"}
          }
        },
        {
          "data": {"name": "legLine"},
          "mark": {"type": "text", "align": "left", "baseline": "middle", "dx": 81.5, "dy": 1, "font": "Liberation Serif", "fontStyle": "italic", "fontSize": 18, "color": "black"},
          "encoding": {
            "x": {"field": "lx", "type": "quantitative", "axis": null},
            "y": {"field": "ly", "type": "quantitative", "axis": null},
            "text": {"value": "N"}
          }
        },
        {
          "data": {"name": "legLine"},
          "mark": {"type": "text", "align": "left", "baseline": "middle", "dx": 96.5, "dy": -5.5, "font": "Liberation Sans", "fontSize": 13.5, "color": "black"},
          "encoding": {
            "x": {"field": "lx", "type": "quantitative", "axis": null},
            "y": {"field": "ly", "type": "quantitative", "axis": null},
            "text": {"field": "expo"}
          }
        },
        {
          "data": {"values": [{"lx": 334.6, "ly": 1.867, "label": "RMSE vs Network Size for Different Jitter (σ) Scaling"}]},
          "mark": {"type": "text", "align": "center", "baseline": "middle", "font": "Lato", "fontSize": 16, "color": "#1a1a1a"},
          "encoding": {
            "x": {"field": "lx", "type": "quantitative", "axis": null},
            "y": {"field": "ly", "type": "quantitative", "axis": null},
            "text": {"field": "label"}
          }
        },
        {
          "data": {"values": [{"lx": 0.1845, "ly": 1.867, "label": "B"}]},
          "mark": {"type": "text", "align": "left", "baseline": "top", "font": "Liberation Sans", "fontSize": 23, "color": "black"},
          "encoding": {
            "x": {"field": "lx", "type": "quantitative", "axis": null},
            "y": {"field": "ly", "type": "quantitative", "axis": null},
            "text": {"field": "label"}
          }
        }
      ]
    }
  ],
  "spacing": 0,
  "bounds": "flush"
}
